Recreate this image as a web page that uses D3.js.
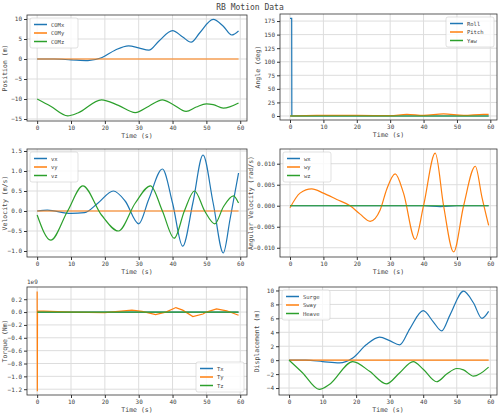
<!DOCTYPE html>
<html><head><meta charset="utf-8">
<script src="https://cdn.jsdelivr.net/npm/d3@7.9.0/dist/d3.min.js"></script>
<style>body{margin:0;background:#fff}text{font-family:"DejaVu Sans Mono",monospace;fill:#444}</style>
</head><body><svg id="c" width="500" height="416"></svg>
<script>
// keypoints: [time, value]
const surge = [[0,0],[5,0],[10,-0.2],[15,-0.4],[19,0.3],[23,2.2],[27,3.3],[30,2.8],[33,2.2],[36,4.5],[40,7.1],[43,5.5],[45.5,4.2],[48,6.5],[52,9.9],[55,8.2],[57.5,6],[59.5,7]];
const heave = [[0,0],[4,-1.8],[9,-4.2],[12,-3.5],[19,-0.2],[24,-1.6],[29,-3.4],[33,-1.8],[37,-0.2],[40,-1.3],[44,-3.1],[47,-2],[50,-1.2],[52,-1.4],[55,-2.3],[59.5,-1]];
const flat = [[0,0],[59.5,0]];
const comz = heave.map(([t, v]) => [t, v - 10]);
const roll = [[0,180],[0.5,180],[0.55,0],[59.5,0]];
const pitch = [[0,0],[8,1],[20,1],[30,0.5],[35,3],[40,1],[46,4],[52,1],[58,3],[59.5,3]];
const vx = [[0,0],[3,0.02],[10,-0.06],[14,-0.04],[18,0.2],[22.5,0.5],[26,0.25],[30,-0.32],[33,0.3],[37,1.05],[40,0.2],[43,-0.88],[46,0.2],[49,1.4],[52,0.2],[55,-1.05],[57,-0.2],[59.5,0.95]];
const vz = [[0,-0.1],[4,-0.73],[9,0],[13.5,0.63],[19,-0.1],[24,-0.5],[29,0.2],[33.5,0.63],[37,0],[40.5,-0.68],[43.5,0],[46.5,0.5],[49.5,0],[52.5,-0.32],[55,0.1],[58,0.38],[59.5,0.2]];
const wy = [[0,-0.0005],[3,0.003],[6.5,0.004],[10,0.003],[14,0.0015],[18,0],[21,-0.002],[24,-0.0037],[27,-0.001],[29,0.004],[31.5,0.0076],[34,0.003],[37.5,-0.008],[40,0],[43.5,0.0125],[46,0],[49,-0.011],[52,0],[55.5,0.0094],[57.5,0.002],[59.5,-0.0047]];
const wx = [[0,0],[40,0],[45,-0.0002],[50,0],[59.5,0]];
const ty = [[0,0.32],[0.05,-1.23],[0.1,0.02],[10,0],[20,-0.01],[28,0.03],[31,0.01],[35,-0.04],[38,0],[41,0.07],[43,0.03],[46,-0.07],[49,-0.03],[50,0],[53,0.05],[56,0.02],[59.5,-0.05]];
const C = ["#1f77b4", "#ff7f0e", "#2ca02c"];

const svg = d3.select("#c");
svg.append("text").attr("x", 250).attr("y", 10).attr("text-anchor", "middle").attr("font-size", 8).text("RB Motion Data");

function panel(box, ylab, ydom, yticks, series, names, legPos, fmt, straight, labOff) {
  const [l, t, r, b] = box;
  const x = d3.scaleLinear().domain([-3, 62]).range([l, r]);
  const y = d3.scaleLinear().domain(ydom).range([b, t]);
  const g = svg.append("g");
  g.selectAll(".gx").data(d3.range(0, 61, 10)).join("line")
    .attr("x1", d => x(d)).attr("x2", d => x(d)).attr("y1", t).attr("y2", b)
    .attr("stroke", "#ddd").attr("stroke-width", 1);
  g.selectAll(".gy").data(yticks).join("line")
    .attr("x1", l).attr("x2", r).attr("y1", d => y(d)).attr("y2", d => y(d))
    .attr("stroke", "#ddd").attr("stroke-width", 1);
  const clip = "cl" + l + "_" + t;
  g.append("clipPath").attr("id", clip).append("rect").attr("x", l).attr("y", t).attr("width", r - l).attr("height", b - t);
  series.forEach((s, i) => {
    const line = d3.line().x(d => x(d[0])).y(d => y(d[1]))
      .curve(straight && straight[i] ? d3.curveLinear : d3.curveMonotoneX);
    g.append("path").attr("d", line(s)).attr("fill", "none").attr("stroke", C[i])
      .attr("stroke-width", 1.2).attr("clip-path", `url(#${clip})`);
  });
  g.append("g").attr("transform", `translate(0,${b})`)
    .call(d3.axisBottom(x).tickValues(d3.range(0, 61, 10)).tickSize(3).tickPadding(2));
  g.append("g").attr("transform", `translate(${l},0)`)
    .call(d3.axisLeft(y).tickValues(yticks).tickSize(3).tickPadding(2).tickFormat(fmt || d3.format("")));
  g.selectAll(".domain").remove();
  g.append("rect").attr("x", l).attr("y", t).attr("width", r - l).attr("height", b - t)
    .attr("fill", "none").attr("stroke", "#333").attr("stroke-width", 0.8);
  g.selectAll(".tick text").attr("font-size", 6).attr("fill", "#444").attr("font-family", "DejaVu Sans Mono");
  g.selectAll(".tick line").attr("stroke", "#333");
  g.append("text").attr("x", (l + r) / 2).attr("y", b + 17).attr("text-anchor", "middle").attr("font-size", 6.5).text("Time (s)");
  g.append("text").attr("transform", `translate(${l - (labOff || 20)},${(t + b) / 2}) rotate(-90)`)
    .attr("text-anchor", "middle").attr("font-size", 6.5).text(ylab);
  // legend
  const lw = 48, lh = 30;
  const lx = legPos === "ul" ? l + 3 : r - lw - 3;
  const ly = legPos === "lr" ? b - lh - 3 : t + 3;
  const lg = g.append("g").attr("transform", `translate(${lx},${ly})`);
  lg.append("rect").attr("width", lw).attr("height", lh).attr("rx", 2).attr("fill", "#fff").attr("fill-opacity", 0.8).attr("stroke", "#ccc").attr("stroke-width", 0.6);
  names.forEach((n, i) => {
    lg.append("line").attr("x1", 4).attr("x2", 17).attr("y1", 6.5 + i * 8.5).attr("y2", 6.5 + i * 8.5).attr("stroke", C[i]).attr("stroke-width", 1.5);
    lg.append("text").attr("x", 21).attr("y", 8.5 + i * 8.5).attr("font-size", 5.5).text(n);
  });
  return g;
}

panel([27, 15, 247, 121], "Position (m)", [-15.5, 11], [-15, -10, -5, 0, 5, 10], [surge, flat, comz], ["COMx", "COMy", "COMz"], "ul");
panel([280, 14, 497, 120], "Angle (deg)", [-7.4, 188], [0, 25, 50, 75, 100, 125, 150, 175], [roll, pitch, flat], ["Roll", "Pitch", "Yaw"], "ur", null, [true, false, false]);
panel([27, 149, 247, 257], "Velocity (m/s)", [-1.15, 1.55], [-1, -0.5, 0, 0.5, 1, 1.5], [vx, flat, vz], ["vx", "vy", "vz"], "ul", d3.format(".1f"));
panel([280, 149, 497, 257], "Angular Velocity (rad/s)", [-0.0122, 0.0135], [-0.01, -0.005, 0, 0.005, 0.01], [wx, wy, flat], ["wx", "wy", "wz"], "ul", d3.format(".3f"), null, 27);
const tg = panel([27, 287, 247, 395], "Torque (Nm)", [-1.29, 0.39], [-1.2, -1, -0.8, -0.6, -0.4, -0.2, 0, 0.2], [flat, ty, flat], ["Tx", "Ty", "Tz"], "lr", d3.format(".1f"), [false, true, false]);
tg.append("text").attr("x", 27).attr("y", 284).attr("font-size", 6).text("1e9");
panel([279, 287, 497, 395], "Displacement (m)", [-5, 10.5], [-4, -2, 0, 2, 4, 6, 8, 10], [surge, flat, heave], ["Surge", "Sway", "Heave"], "ul");
</script></body></html>
